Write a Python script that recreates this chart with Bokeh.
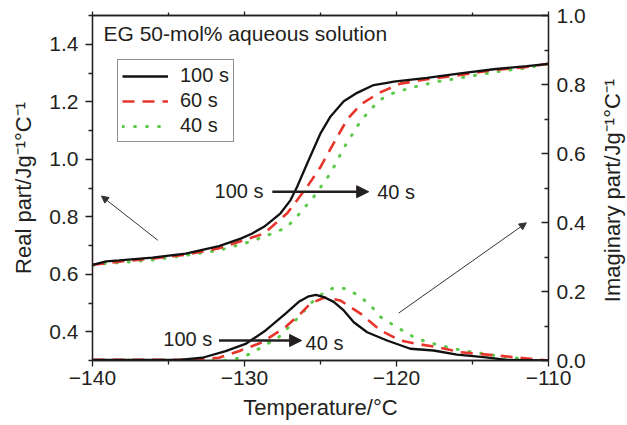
import math
from bokeh.plotting import figure
from bokeh.models import (Range1d, LinearAxis, FixedTicker, Label, Arrow, NormalHead,
                          Legend, LegendItem)
from bokeh.embed import file_html
from bokeh.resources import INLINE

# ---------------- data ----------------
# Real part (left axis), J g^-1 °C^-1
real_100_T = [-140, -139.1, -138.25, -136.06, -133.87, -131.68, -130.25, -129.49, -128.72, -128.17,
              -127.63, -126.97, -126.53, -125.87, -124.99, -124.34, -123.47, -122.59, -121.5, -120.62,
              -120.18, -117.99, -115.8, -113.61, -111.42, -110]
real_100 = [0.633, 0.645, 0.648, 0.658, 0.672, 0.698, 0.724, 0.742, 0.765, 0.788,
            0.812, 0.858, 0.905, 0.986, 1.091, 1.149, 1.202, 1.231, 1.258, 1.266,
            1.270, 1.283, 1.299, 1.313, 1.324, 1.332]

real_60_T = [-140, -138.0, -136.0, -133.9, -131.7, -129.93, -128.72, -128.17, -127.19, -125.87,
             -124.99, -124.13, -123.25, -122.37, -121.5, -121.05, -120.62, -119.74, -117.99, -115.8,
             -113.61, -111.42, -110]
real_60 = [0.633, 0.645, 0.655, 0.668, 0.690, 0.720, 0.742, 0.767, 0.812, 0.905,
           0.974, 1.056, 1.138, 1.190, 1.219, 1.233, 1.243, 1.263, 1.278, 1.293,
           1.310, 1.321, 1.332]

real_40_T = [-140, -139.1, -138.25, -136.0, -133.87, -131.68, -129.5, -128.17, -127.3, -126.75,
             -125.44, -124.34, -123.47, -122.37, -121.71, -121.05, -120.18, -118.87, -117.33, -115.8,
             -113.61, -111.42, -110]
real_40 = [0.630, 0.638, 0.640, 0.650, 0.666, 0.683, 0.715, 0.742, 0.761, 0.788,
           0.870, 0.951, 1.039, 1.132, 1.173, 1.208, 1.231, 1.251, 1.270, 1.283,
           1.303, 1.318, 1.332]

# Imaginary part (right axis)
imag_100_T = [-140, -134.3, -132.77, -131.24, -129.93, -128.61, -127.3, -126.43, -125.77, -125.3,
              -124.78, -124.13, -123.47, -122.81, -121.93, -120.62, -119.09, -117.56, -116.02, -114.27,
              -112.73, -110]
imag_100 = [0.002, 0.002, 0.008, 0.027, 0.048, 0.087, 0.136, 0.170, 0.186, 0.190,
            0.184, 0.170, 0.145, 0.111, 0.082, 0.058, 0.034, 0.029, 0.017, 0.010,
            0.002, 0.0]

imag_60_T = [-140, -133.2, -131.68, -130.37, -128.83, -127.3, -126.31, -125.66, -124.78, -124.3,
             -123.69, -122.37, -121.05, -119.74, -118.65, -117.33, -115.8, -114.05, -111.86, -110]
imag_60 = [0.002, 0.002, 0.008, 0.027, 0.053, 0.097, 0.136, 0.165, 0.182, 0.180,
           0.174, 0.136, 0.087, 0.058, 0.048, 0.039, 0.024, 0.017, 0.008, 0.0]

imag_40_T = [-140, -131.24, -130.14, -129.05, -127.74, -126.43, -125.66, -124.89, -124.13, -123.25,
             -122.37, -121.71, -121.05, -120.18, -118.87, -117.99, -117.11, -116.24, -114.93, -113.17,
             -111.64, -110.5]
imag_40 = [0.001, 0.001, 0.008, 0.034, 0.068, 0.126, 0.165, 0.193, 0.211, 0.208,
           0.184, 0.160, 0.126, 0.102, 0.068, 0.053, 0.044, 0.034, 0.024, 0.012,
           0.005, 0.0]

series_labels = ["100 s", "60 s", "40 s"]

x_ticks = [-140, -130, -120, -110]
x_tick_labels = ["\u2212140", "\u2212130", "\u2212120", "\u2212110"]
x_minor = [-135, -125, -115]
left_ticks = [0.4, 0.6, 0.8, 1.0, 1.2, 1.4]
left_tick_labels = ["0.4", "0.6", "0.8", "1.0", "1.2", "1.4"]
left_minor = [0.3, 0.5, 0.7, 0.9, 1.1, 1.3, 1.5]
right_ticks = [0.0, 0.2, 0.4, 0.6, 0.8, 1.0]
right_tick_labels = ["0.0", "0.2", "0.4", "0.6", "0.8", "1.0"]
right_minor = [0.1, 0.3, 0.5, 0.7, 0.9]

title_text = "EG 50-mol% aqueous solution"
x_label = "Temperature/\u00b0C"
left_label = "Real part/Jg\u207b\u00b9\u00b0C\u207b\u00b9"
right_label = "Imaginary part/Jg\u207b\u00b9\u00b0C\u207b\u00b9"

# ---------------- styling ----------------
TXT = "#231f20"
FONT = "Liberation Sans"
BLACK = "#111111"
RED = "#e8352b"
GREEN = "#5cc94a"
TICK_FS = "21px"

p = figure(width=627, height=425, output_backend="svg", toolbar_location=None,
           x_range=Range1d(-140, -110), y_range=Range1d(0.3, 1.5),
           min_border_left=92, min_border_right=79, min_border_top=15, min_border_bottom=65,
           background_fill_color="white", border_fill_color="white",
           outline_line_color=TXT, outline_line_width=1.3)
p.grid.visible = False
p.extra_y_ranges = {"im": Range1d(0, 1)}


def style_axis(ax):
    ax.axis_line_color = TXT
    ax.axis_line_width = 1.3
    ax.major_tick_line_color = TXT
    ax.minor_tick_line_color = TXT
    ax.major_tick_line_width = 1.3
    ax.minor_tick_line_width = 1.3
    ax.major_label_text_font = FONT
    ax.major_label_text_font_size = TICK_FS
    ax.major_label_text_color = TXT
    ax.axis_label_text_font = FONT
    ax.axis_label_text_font_style = "normal"
    ax.axis_label_text_color = TXT


xax = p.xaxis[0]
style_axis(xax)
xax.ticker = FixedTicker(ticks=x_ticks, minor_ticks=x_minor)
xax.major_label_overrides = dict(zip(x_ticks, x_tick_labels))
xax.major_tick_out = 6
xax.major_tick_in = 0
xax.minor_tick_out = 4
xax.minor_tick_in = 0
xax.major_label_standoff = 4
xax.axis_label = x_label
xax.axis_label_text_font_size = "22px"
xax.axis_label_standoff = 7

yax = p.yaxis[0]
style_axis(yax)
yax.ticker = FixedTicker(ticks=left_ticks, minor_ticks=left_minor)
yax.major_label_overrides = dict(zip(left_ticks, left_tick_labels))
yax.major_tick_out = 7
yax.major_tick_in = 0
yax.minor_tick_out = 4
yax.minor_tick_in = 0
yax.major_label_standoff = 7
yax.axis_label = left_label
yax.axis_label_text_font_size = "22px"
yax.axis_label_standoff = 10

rax = LinearAxis(y_range_name="im", ticker=FixedTicker(ticks=right_ticks, minor_ticks=right_minor))
style_axis(rax)
rax.major_label_overrides = dict(zip(right_ticks, right_tick_labels))
rax.major_tick_out = 0
rax.major_tick_in = 7
rax.minor_tick_out = 0
rax.minor_tick_in = 4
rax.major_label_standoff = 8
p.add_layout(rax, "right")

tax = LinearAxis(ticker=FixedTicker(ticks=x_ticks, minor_ticks=x_minor))
style_axis(tax)
tax.major_label_overrides = {t: "" for t in x_ticks}
tax.major_label_text_font_size = "1px"
tax.major_label_standoff = 0
tax.major_tick_out = 4
tax.major_tick_in = 0
tax.minor_tick_out = 3
tax.minor_tick_in = 0
p.add_layout(tax, "above")

# right-hand axis title, reading bottom to top, placed in the right side panel
p.add_layout(Label(x=24, y=170, x_units="screen", y_units="screen", text=right_label,
                   text_font=FONT, text_font_size="22px", text_color=TXT,
                   text_align="center", text_baseline="alphabetic", angle=math.pi / 2),
             "right")

# ---------------- curves ----------------
g1 = p.line(real_40_T, real_40, line_color=GREEN, line_width=3, line_dash="1 11", line_cap="round")
g2 = p.line(imag_40_T, imag_40, line_color=GREEN, line_width=3, line_dash="1 11", line_cap="round",
            y_range_name="im")
r1 = p.line(real_60_T, real_60, line_color=RED, line_width=2.6, line_dash="12 8")
r2 = p.line(imag_60_T, imag_60, line_color=RED, line_width=2.6, line_dash="12 8", y_range_name="im")
b1 = p.line(real_100_T, real_100, line_color=BLACK, line_width=2.3)
b2 = p.line(imag_100_T, imag_100, line_color=BLACK, line_width=2.3, y_range_name="im")

legend = Legend(items=[LegendItem(label=series_labels[0], renderers=[b1]),
                       LegendItem(label=series_labels[1], renderers=[r1]),
                       LegendItem(label=series_labels[2], renderers=[g1])],
                location=(25, 218))
legend.label_text_font = FONT
legend.label_text_font_size = "20px"
legend.label_text_color = TXT
legend.border_line_color = TXT
legend.border_line_width = 1.2
legend.background_fill_color = "white"
legend.background_fill_alpha = 1.0
legend.padding = 4
legend.spacing = 2
legend.margin = 0
legend.glyph_width = 46
legend.glyph_height = 20
legend.label_height = 20
legend.label_standoff = 12
p.add_layout(legend)

# ---------------- arrows ----------------
p.add_layout(Arrow(x_start=-128.17, y_start=0.887, x_end=-121.83, y_end=0.887,
                   line_color=TXT, line_width=2.5,
                   end=NormalHead(size=12, fill_color=TXT, line_color=TXT, line_width=1)))
p.add_layout(Arrow(x_start=-131.68, y_start=0.058, x_end=-126.24, y_end=0.058, y_range_name="im",
                   line_color=TXT, line_width=2.5,
                   end=NormalHead(size=12, fill_color=TXT, line_color=TXT, line_width=1)))
p.add_layout(Arrow(x_start=-135.7, y_start=0.718, x_end=-139.41, y_end=0.872,
                   line_color="#333333", line_width=1,
                   end=NormalHead(size=7, fill_color="#333333", line_color="#333333", line_width=1)))
p.add_layout(Arrow(x_start=-119.86, y_start=0.1375, x_end=-111.46, y_end=0.399, y_range_name="im",
                   line_color="#333333", line_width=1,
                   end=NormalHead(size=7, fill_color="#333333", line_color="#333333", line_width=1)))

# ---------------- text ----------------
def txt(**kw):
    base = dict(text_font=FONT, text_color=TXT)
    base.update(kw)
    p.add_layout(Label(**base))

txt(x=-128.75, y=0.889, text=series_labels[0], text_font_size="20px", text_align="right",
    text_baseline="middle")
txt(x=-121.27, y=0.885, text=series_labels[2], text_font_size="20px", text_align="left",
    text_baseline="middle")
txt(x=-132.12, y=0.062, y_range_name="im", text=series_labels[0], text_font_size="20px",
    text_align="right", text_baseline="middle")
txt(x=-125.98, y=0.051, y_range_name="im", text=series_labels[2], text_font_size="20px",
    text_align="left", text_baseline="middle")

# screen units are measured from the frame's bottom-left corner
txt(x=11, y=327, x_units="screen", y_units="screen", text=title_text, text_font_size="21px",
    text_align="left", text_baseline="alphabetic")

open("out.html", "w").write(file_html(p, INLINE))
